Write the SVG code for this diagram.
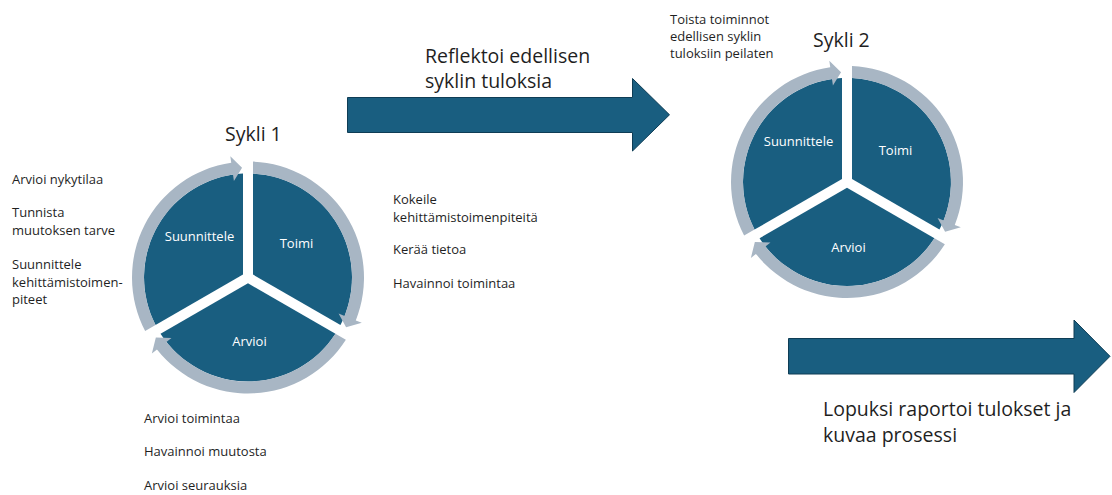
<svg xmlns="http://www.w3.org/2000/svg" xmlns:xlink="http://www.w3.org/1999/xlink" width="1112" height="495" viewBox="0 0 1112 495">
  <style>
    .slice { fill: #195e80; }
    .ring { fill: #a8b6c4; }
    .seg { font-family: "Open Sans", "Liberation Sans", sans-serif; font-size: 13px; fill: #ffffff; text-anchor: middle; }
    .note { font-family: "Open Sans", "Liberation Sans", sans-serif; font-size: 13px; fill: #1f1f1f; }
    .title { font-family: "Open Sans", "Liberation Sans", sans-serif; font-size: 19.5px; fill: #1f1f1f; }
    .big { font-family: "Open Sans", "Liberation Sans", sans-serif; font-size: 19.5px; fill: #1f1f1f; }
    .block { fill: #195e80; stroke: #0e3d55; stroke-width: 1; }
  </style>
  <defs>
    <path id="slice" d="M 5 -2.887 L 5 -103.88 A 104 104 0 0 1 92.46 47.61 Z"/>
    <path id="ringArrow" d="M 5 -115.89 A 116 116 0 0 1 107.78 42.89 L 113.82 45.29 L 98.10 49.77 L 90.59 36.05 L 96.63 38.45 A 104 104 0 0 0 5 -103.88 Z"/>
  </defs>
  <rect width="1112" height="495" fill="#ffffff"/>

  <!-- Cycle 1 -->
  <g id="cycle1">
    <g id="c1-toimi">
      <use xlink:href="#slice" href="#slice" class="slice" transform="translate(248,277.5)"/>
      <text class="seg" x="296.5" y="248">Toimi</text>
    </g>
    <g id="c1-arvioi">
      <use xlink:href="#slice" href="#slice" class="slice" transform="translate(248,277.5) rotate(120)"/>
      <text class="seg" x="249.5" y="346">Arvioi</text>
    </g>
    <g id="c1-suunnittele">
      <use xlink:href="#slice" href="#slice" class="slice" transform="translate(248,277.5) rotate(240)"/>
      <text class="seg" x="199.5" y="240.5">Suunnittele</text>
    </g>
    <text id="c1-title" class="title" x="225" y="141">Sykli 1</text>
  </g>

  <!-- Cycle 2 -->
  <g id="cycle2">
    <g id="c2-toimi">
      <use xlink:href="#slice" href="#slice" class="slice" transform="translate(847,182)"/>
      <text class="seg" x="895.5" y="154.5">Toimi</text>
    </g>
    <g id="c2-arvioi">
      <use xlink:href="#slice" href="#slice" class="slice" transform="translate(847,182) rotate(120)"/>
      <text class="seg" x="848.5" y="252">Arvioi</text>
    </g>
    <g id="c2-suunnittele">
      <use xlink:href="#slice" href="#slice" class="slice" transform="translate(847,182) rotate(240)"/>
      <text class="seg" x="798.5" y="146">Suunnittele</text>
    </g>
    <text id="c2-title" class="title" x="813" y="47">Sykli 2</text>
  </g>

  <!-- Connectors: cycle arrows -->
  <g id="connectors">
    <use xlink:href="#ringArrow" href="#ringArrow" class="ring" transform="translate(248,277.5)"/>
    <use xlink:href="#ringArrow" href="#ringArrow" class="ring" transform="translate(248,277.5) rotate(120)"/>
    <use xlink:href="#ringArrow" href="#ringArrow" class="ring" transform="translate(248,277.5) rotate(240)"/>
    <use xlink:href="#ringArrow" href="#ringArrow" class="ring" transform="translate(847,182)"/>
    <use xlink:href="#ringArrow" href="#ringArrow" class="ring" transform="translate(847,182) rotate(120)"/>
    <use xlink:href="#ringArrow" href="#ringArrow" class="ring" transform="translate(847,182) rotate(240)"/>
  </g>

  <!-- Block arrows -->
  <g id="arrow-reflect">
    <polygon class="block" points="347.5,97.5 632.5,97.5 632.5,78.5 669.5,114.8 632.5,151 632.5,132.5 347.5,132.5"/>
    <text class="big" x="425" y="62.5">Reflektoi edellisen</text>
    <text class="big" x="425" y="88">syklin tuloksia</text>
  </g>
  <g id="arrow-final">
    <polygon class="block" points="788.5,338.5 1074,338.5 1074,320 1110,356.3 1074,392.5 1074,374 788.5,374"/>
    <text class="big" x="823" y="416">Lopuksi raportoi tulokset ja</text>
    <text class="big" x="823" y="441.5">kuvaa prosessi</text>
  </g>

  <!-- Notes -->
  <g id="notes-plan">
    <text class="note" x="12" y="184">Arvioi nykytilaa</text>
    <text class="note" x="12" y="217">Tunnista</text>
    <text class="note" x="12" y="234.5">muutoksen tarve</text>
    <text class="note" x="12" y="269">Suunnittele</text>
    <text class="note" x="12" y="286.5">kehittämistoimen-</text>
    <text class="note" x="12" y="303.5">piteet</text>
  </g>
  <g id="notes-act">
    <text class="note" x="393" y="204">Kokeile</text>
    <text class="note" x="393" y="221.5">kehittämistoimenpiteitä</text>
    <text class="note" x="393" y="254">Kerää tietoa</text>
    <text class="note" x="393" y="288">Havainnoi toimintaa</text>
  </g>
  <g id="notes-evaluate">
    <text class="note" x="144" y="423">Arvioi toimintaa</text>
    <text class="note" x="144" y="456">Havainnoi muutosta</text>
    <text class="note" x="144" y="490">Arvioi seurauksia</text>
  </g>
  <g id="notes-repeat">
    <text class="note" x="670" y="23.5">Toista toiminnot</text>
    <text class="note" x="670" y="41">edellisen syklin</text>
    <text class="note" x="670" y="58">tuloksiin peilaten</text>
  </g>
</svg>
